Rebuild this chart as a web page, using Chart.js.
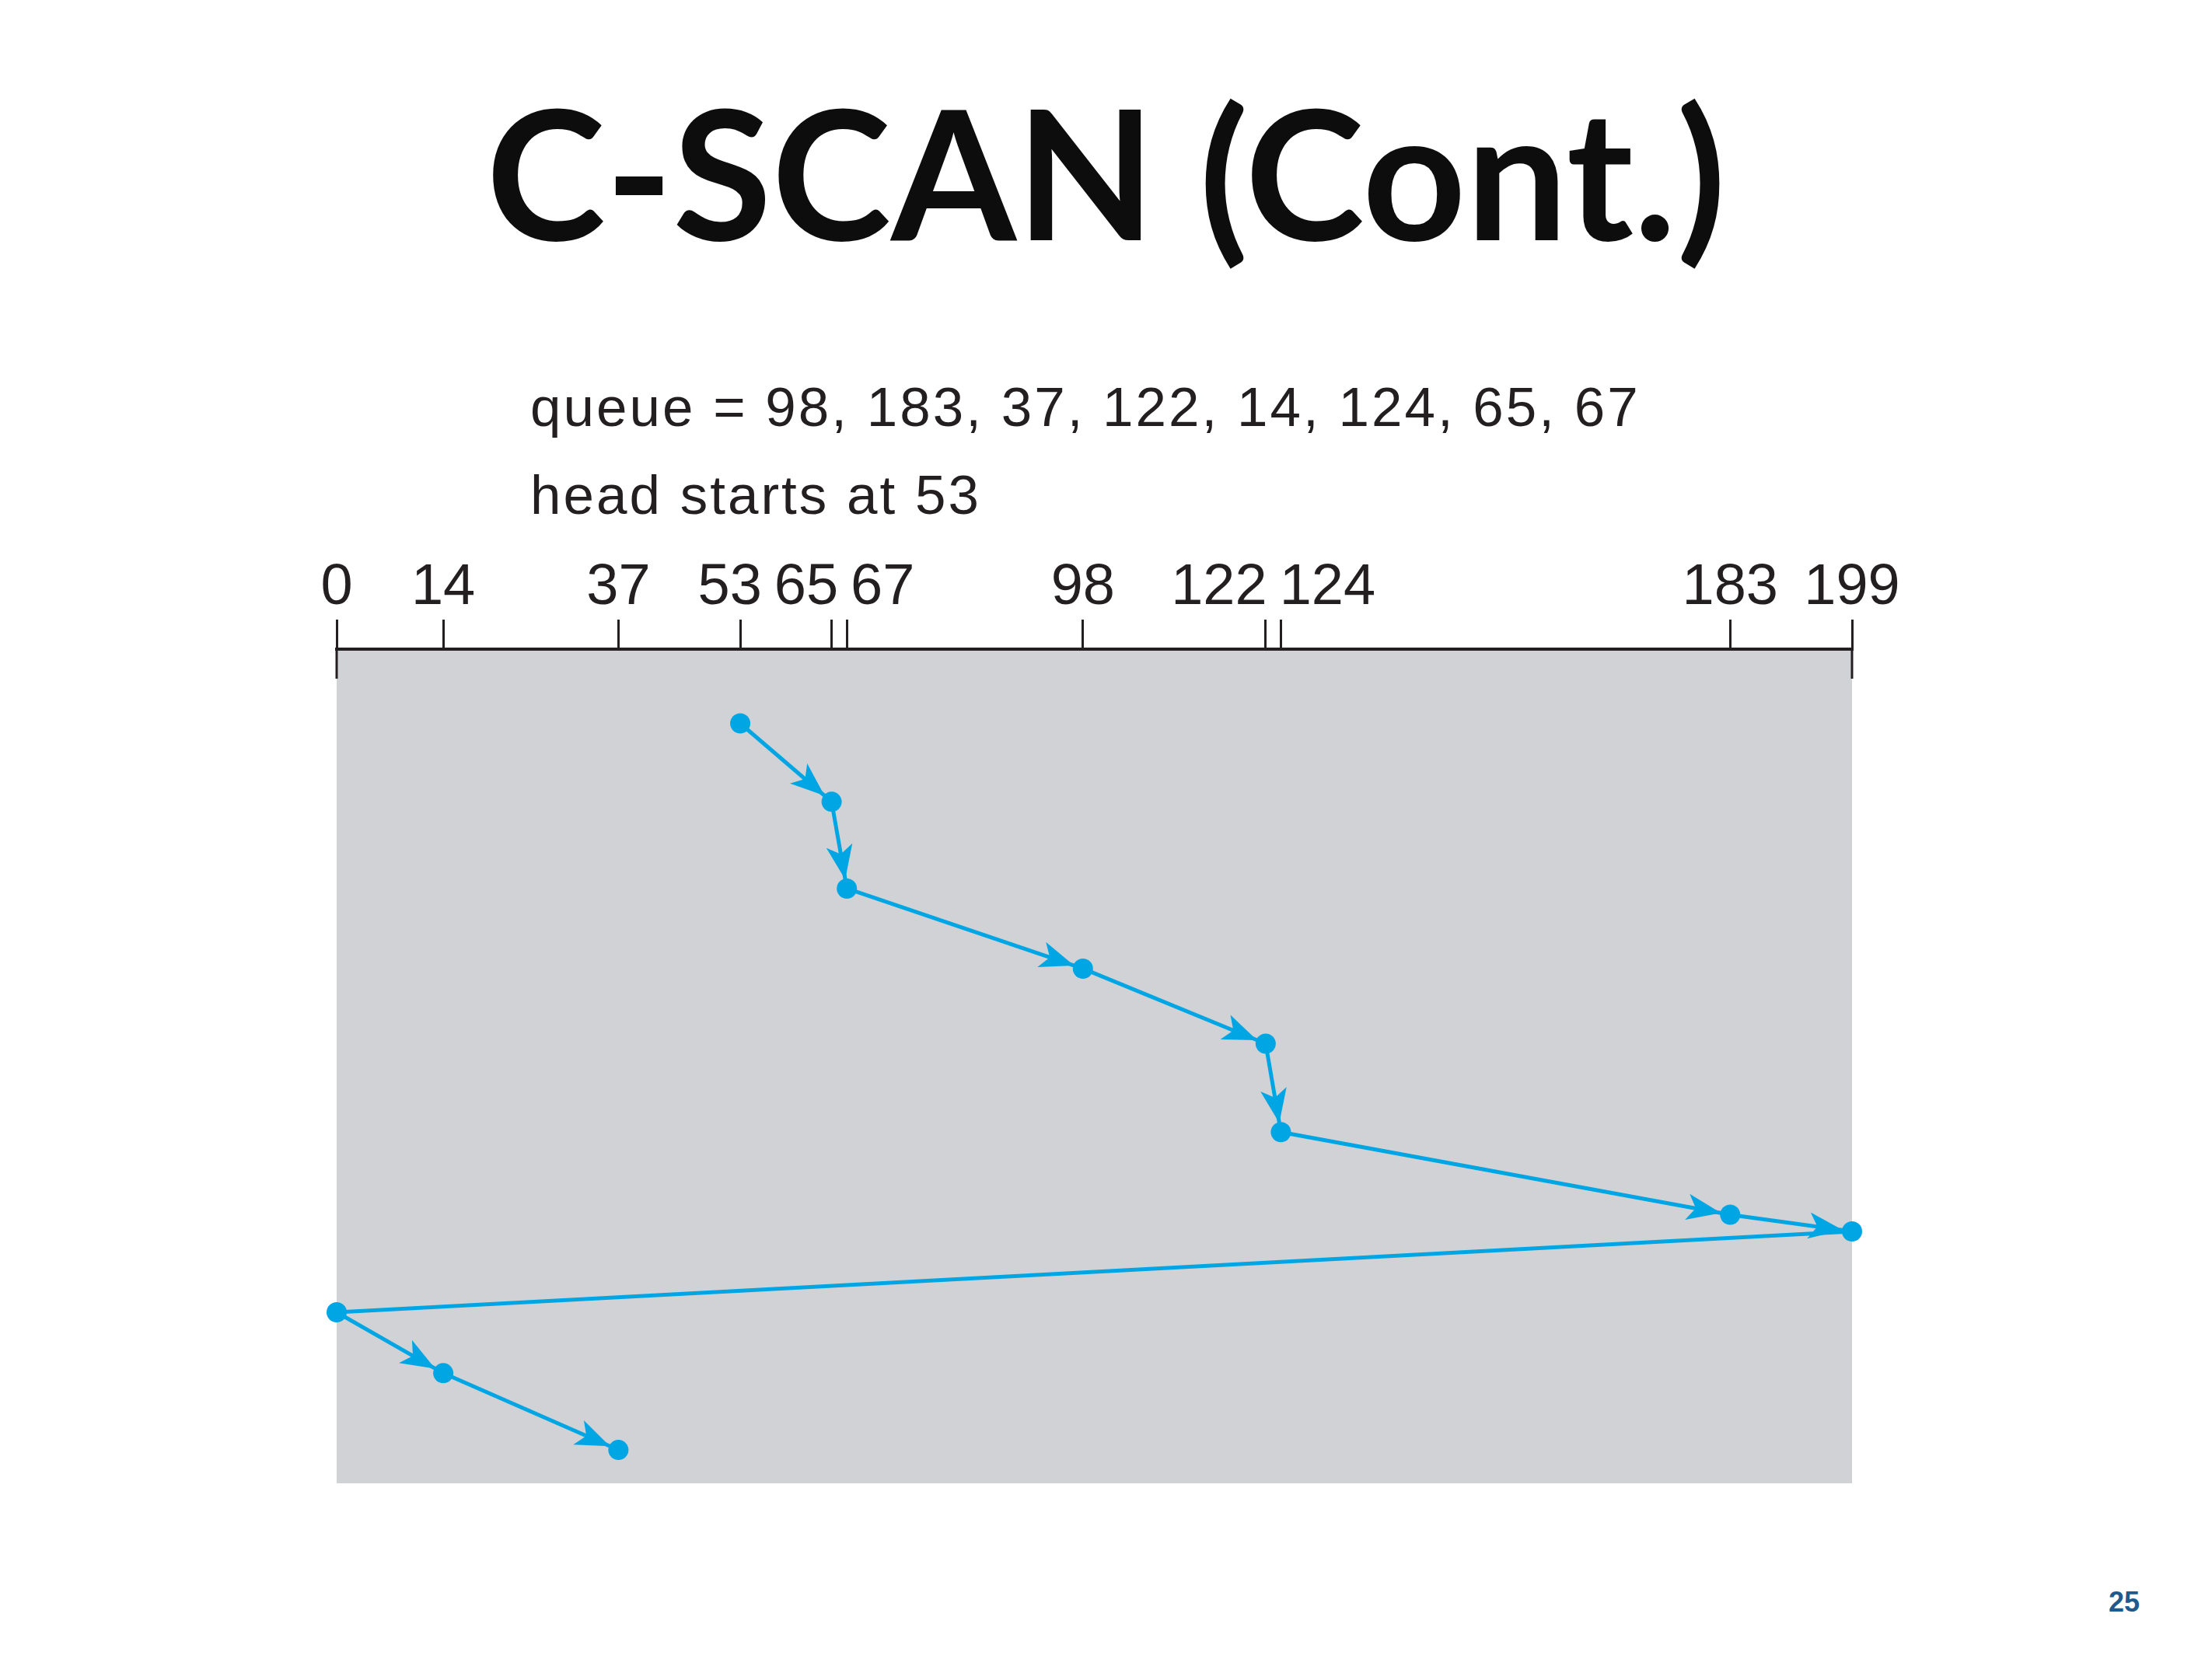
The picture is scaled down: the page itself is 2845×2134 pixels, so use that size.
<!DOCTYPE html>
<html lang="en">
<head>
  <meta charset="UTF-8">
  <title>C-SCAN (Cont.)</title>
  <script src="https://cdn.jsdelivr.net/npm/chart.js"></script>
  <style>
    body { margin: 0; width: 2845px; height: 2134px; position: relative; background: #fff; overflow: hidden; }
    #title { position: absolute; left: 0; width: 2845px; top: 103px; margin: 0; text-align: center;
             font-family: Lato, "Open Sans", sans-serif; font-weight: 700; font-size: 232px; line-height: 232px; color: #0d0d0d; }
    .note { position: absolute; left: 682px; font-family: "Liberation Sans", Arial, sans-serif; font-size: 71px;
            letter-spacing: 3px; line-height: 113px; color: #231f20; }
    #page { position: absolute; right: 93px; top: 2043px; font-family: "Liberation Sans", Arial, sans-serif;
            font-weight: bold; font-size: 36px; line-height: 36px; color: #1f5a8c; }
    #wrap { position: absolute; left: 0; top: 0; width: 2845px; height: 2134px; }
  </style>
</head>
<body>
<h1 id="title">C-SCAN (Cont.)</h1>
<div class="note" id="queueLine" style="top:467px"></div>
<div class="note" id="headLine" style="top:580px"></div>
<div id="page">25</div>
<div id="wrap"><canvas id="chart" width="2845" height="2134"></canvas></div>

<script>
  // request queue and starting head position
  const queue = [98, 183, 37, 122, 14, 124, 65, 67];
  const headStart = 53;

  // order the head visits cylinders (C-SCAN, moving up, then jump back to 0)
  const cylinders = [53, 65, 67, 98, 122, 124, 183, 199, 0, 14, 37];
  // vertical position of each step (0 = top, 100 = bottom)
  const steps = [8.9, 18.3, 28.7, 38.3, 47.3, 57.9, 67.8, 69.8, 79.5, 86.8, 96.0];

  // cylinder marks along the top axis
  const tickValues = [0, 14, 37, 53, 65, 67, 98, 122, 124, 183, 199];

  document.getElementById('queueLine').textContent = 'queue = ' + queue.join(', ');
  document.getElementById('headLine').textContent = 'head starts at ' + headStart;

  const blue = '#00a6e4';
  const ink = '#231f20';

  const grayArea = {
    id: 'grayArea',
    beforeDraw(chart) {
      const a = chart.chartArea;
      const ctx = chart.ctx;
      ctx.save();
      ctx.fillStyle = '#d1d2d6';
      ctx.fillRect(a.left, a.top, a.right - a.left, a.bottom - a.top);
      ctx.restore();
    }
  };

  // tick labels, nudged apart where they would collide
  const axisLabels = {
    id: 'axisLabels',
    afterDraw(chart) {
      const x = chart.scales.x;
      const ctx = chart.ctx;
      ctx.save();
      ctx.font = '74px "Liberation Sans", Arial, sans-serif';
      ctx.fillStyle = ink;
      ctx.textAlign = 'center';
      ctx.textBaseline = 'alphabetic';
      const items = tickValues.map(v => ({
        text: String(v),
        c: x.getPixelForValue(v),
        w: ctx.measureText(String(v)).width
      }));
      const gap = 16;
      for (let k = 0; k < 40; k++) {
        for (let i = 0; i < items.length - 1; i++) {
          const a = items[i], b = items[i + 1];
          const over = (a.c + a.w / 2 + gap) - (b.c - b.w / 2);
          if (over > 0) { a.c -= over / 2; b.c += over / 2; }
        }
      }
      const y = x.bottom - 38 - 20;
      items.forEach(it => ctx.fillText(it.text, it.c, y));

      // end marks run down past the axis line
      ctx.strokeStyle = ink;
      ctx.lineWidth = 3;
      [x.min, x.max].forEach(v => {
        const px = x.getPixelForValue(v);
        ctx.beginPath();
        ctx.moveTo(px, x.bottom);
        ctx.lineTo(px, x.bottom + 38);
        ctx.stroke();
      });
      ctx.restore();
    }
  };

  // arrowheads on each forward move (the return sweep has none)
  const arrows = {
    id: 'arrows',
    afterDatasetsDraw(chart) {
      const pts = chart.getDatasetMeta(0).data;
      const ctx = chart.ctx;
      ctx.save();
      ctx.fillStyle = blue;
      for (let i = 1; i < pts.length; i++) {
        if (cylinders[i] < cylinders[i - 1]) continue;
        const p0 = pts[i - 1], p1 = pts[i];
        const dx = p1.x - p0.x, dy = p1.y - p0.y;
        const len = Math.hypot(dx, dy);
        const ux = dx / len, uy = dy / len;
        const tipX = p1.x - ux * 12, tipY = p1.y - uy * 12;
        const L = 44, H = 17, notch = 11;
        const bx = tipX - ux * L, by = tipY - uy * L;
        ctx.beginPath();
        ctx.moveTo(tipX, tipY);
        ctx.lineTo(bx - uy * H, by + ux * H);
        ctx.lineTo(bx + ux * notch, by + uy * notch);
        ctx.lineTo(bx + uy * H, by - ux * H);
        ctx.closePath();
        ctx.fill();
      }
      ctx.restore();
    }
  };

  const ctx = document.getElementById('chart').getContext('2d');

  new Chart(ctx, {
    type: 'scatter',
    data: {
      datasets: [{
        label: 'head movement',
        data: cylinders.map((c, i) => ({ x: c, y: steps[i] })),
        showLine: true,
        borderColor: blue,
        borderWidth: 5,
        backgroundColor: blue,
        pointRadius: 13,
        pointBorderWidth: 0,
        clip: false
      }]
    },
    options: {
      responsive: false,
      devicePixelRatio: 1,
      animation: false,
      layout: { padding: { top: 700, left: 433, right: 463, bottom: 226 } },
      plugins: { legend: { display: false }, tooltip: { enabled: false } },
      scales: {
        x: {
          type: 'linear',
          position: 'top',
          min: 0,
          max: 199,
          afterBuildTicks: s => { s.ticks = tickValues.map(v => ({ value: v })); },
          afterFit: s => { s.height = 135; },
          ticks: { display: false },
          grid: { drawOnChartArea: false, drawTicks: true, tickLength: 38, color: ink, lineWidth: 3 },
          border: { display: true, color: ink, width: 4 }
        },
        y: {
          display: false,
          reverse: true,
          min: 0,
          max: 100
        }
      }
    },
    plugins: [grayArea, axisLabels, arrows]
  });
</script>
</body>
</html>
